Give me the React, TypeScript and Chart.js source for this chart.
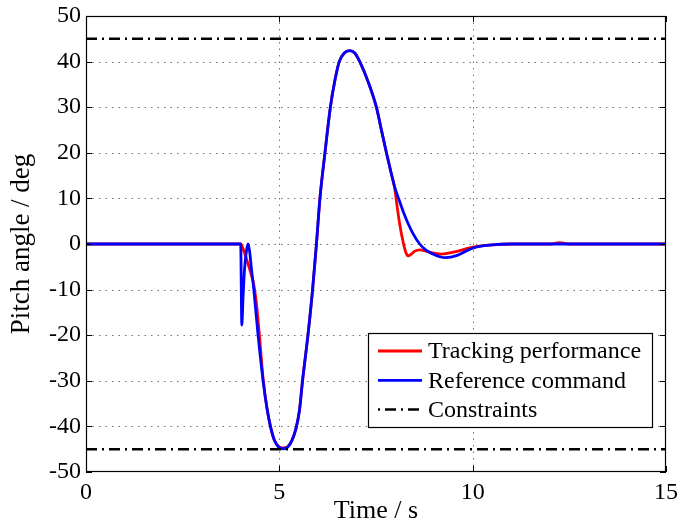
import React, { useEffect, useRef } from "react";
import { Chart, registerables } from "chart.js";

Chart.register(...registerables);

// ---- data ----
const trackTime = [0, 4.0, 4.08, 4.16, 4.25, 4.33, 4.4, 4.47, 4.58, 4.68, 4.77, 4.87, 4.98, 5.1, 5.22, 5.33, 5.43, 5.52, 5.6, 5.74, 5.86, 5.96, 6.05, 6.18, 6.32, 6.44, 6.55, 6.68, 6.82, 6.95, 7.08, 7.3, 7.51, 7.64, 7.77, 7.88, 7.98, 8.05, 8.12, 8.2, 8.27, 8.33, 8.4, 8.5, 8.63, 8.8, 9.0, 9.2, 9.5, 10.0, 10.5, 11.0, 12.0, 12.25, 12.5, 15];
const trackPitch = [0, 0, -1.5, -3.5, -6, -8.5, -12.5, -18.5, -29.5, -36, -40, -43, -44.4, -44.7, -44.4, -43, -40.5, -36.5, -30, -20, -10, 0, 10, 20, 30, 36, 40, 41.9, 42.4, 41.9, 40, 35.5, 30, 25, 20, 16, 12.4, 8, 4, 0.5, -1.8, -2.6, -2.3, -1.6, -1.3, -1.6, -2.0, -2.2, -1.8, -0.7, -0.2, 0, 0, 0.3, 0, 0];

const refTime = [0, 4.0, 4.03, 4.06, 4.1, 4.15, 4.19, 4.23, 4.28, 4.34, 4.45, 4.58, 4.68, 4.77, 4.87, 4.98, 5.1, 5.22, 5.33, 5.43, 5.52, 5.6, 5.74, 5.86, 5.96, 6.05, 6.18, 6.32, 6.44, 6.55, 6.68, 6.82, 6.95, 7.08, 7.3, 7.51, 7.64, 7.77, 7.88, 7.98, 8.1, 8.2, 8.33, 8.45, 8.63, 8.8, 9.0, 9.15, 9.3, 9.6, 10.0, 10.5, 11.0, 15];
const refPitch = [0, 0, -17.8, -12, -5.5, -1.5, 0, -1.5, -5.5, -10, -20, -30, -36, -40, -43, -44.5, -44.9, -44.5, -43, -40.5, -36.5, -30, -20, -10, 0, 10, 20, 30, 36, 40, 41.9, 42.4, 41.9, 40, 35.5, 30, 25, 20, 16, 12.6, 9.6, 7.2, 4.5, 2.4, 0, -1.4, -2.3, -2.8, -3.0, -2.5, -0.9, -0.2, 0, 0];

const constraintTime = [0, 15];
const upperConstraint = [45, 45];
const lowerConstraint = [-45, -45];

const xTicks = [0, 5, 10, 15];
const yTicks = [-50, -40, -30, -20, -10, 0, 10, 20, 30, 40, 50];

const seriesLabels = ["Tracking performance", "Reference command", "Constraints"];
const seriesColors = ["#ff0000", "#0000ff", "#000000"];

const FONT = '"Liberation Serif", "Times New Roman", Times, serif';
const CONSTRAINT_DASH = [11, 5, 2, 5];

const toPoints = (xs: number[], ys: number[]) => xs.map((x, i) => ({ x, y: ys[i] }));

const framePlugin = {
  id: "matlabFrame",
  beforeDatasetsDraw(chart: any) {
    const { ctx, chartArea: a, scales } = chart;
    const x = scales.x;
    const y = scales.y;
    ctx.save();
    ctx.strokeStyle = "rgba(0,0,0,0.55)";
    ctx.lineWidth = 1;
    ctx.setLineDash([1.5, 5]);
    for (const v of xTicks) {
      const px = Math.round(x.getPixelForValue(v)) + 0.5;
      if (px <= a.left + 2 || px >= a.right - 2) continue;
      ctx.beginPath();
      ctx.moveTo(px, a.top);
      ctx.lineTo(px, a.bottom);
      ctx.stroke();
    }
    for (const v of yTicks) {
      const py = Math.round(y.getPixelForValue(v)) + 0.5;
      if (py <= a.top + 2 || py >= a.bottom - 2) continue;
      ctx.beginPath();
      ctx.moveTo(a.left, py);
      ctx.lineTo(a.right, py);
      ctx.stroke();
    }
    ctx.restore();
  },
  afterDatasetsDraw(chart: any) {
    const { ctx, chartArea: a, scales } = chart;
    const x = scales.x;
    const y = scales.y;
    ctx.save();
    ctx.setLineDash([]);
    ctx.strokeStyle = "#000";
    ctx.lineWidth = 1.2;
    ctx.strokeRect(a.left + 0.5, a.top + 0.5, a.right - a.left - 1, a.bottom - a.top - 1);
    // inward ticks
    const tl = 6;
    ctx.lineWidth = 1;
    for (const v of xTicks) {
      const px = Math.round(x.getPixelForValue(v)) + 0.5;
      ctx.beginPath();
      ctx.moveTo(px, a.bottom);
      ctx.lineTo(px, a.bottom - tl);
      ctx.moveTo(px, a.top);
      ctx.lineTo(px, a.top + tl);
      ctx.stroke();
    }
    for (const v of yTicks) {
      const py = Math.round(y.getPixelForValue(v)) + 0.5;
      ctx.beginPath();
      ctx.moveTo(a.left, py);
      ctx.lineTo(a.left + tl, py);
      ctx.moveTo(a.right, py);
      ctx.lineTo(a.right - tl, py);
      ctx.stroke();
    }
    // legend (MATLAB style, inside lower right)
    const boxL = a.left + 282;
    const boxT = a.top + 317;
    const boxR = a.right - 14;
    const boxB = a.bottom - 45;
    ctx.fillStyle = "#fff";
    ctx.fillRect(boxL, boxT, boxR - boxL, boxB - boxT);
    ctx.lineWidth = 1.2;
    ctx.strokeStyle = "#000";
    ctx.strokeRect(boxL + 0.5, boxT + 0.5, boxR - boxL, boxB - boxT);
    const rowH = 29.3;
    const row0 = boxT + 18;
    const lineX0 = boxL + 10;
    const lineX1 = boxL + 54;
    const textX = boxL + 60;
    ctx.font = `24px ${FONT}`;
    ctx.textBaseline = "middle";
    ctx.textAlign = "left";
    seriesLabels.forEach((label, i) => {
      const ry = row0 + i * rowH;
      ctx.save();
      ctx.strokeStyle = seriesColors[i];
      ctx.lineWidth = i === 2 ? 2.5 : 2.8;
      ctx.setLineDash(i === 2 ? [2, 5, 11, 5] : []);
      ctx.beginPath();
      ctx.moveTo(lineX0, ry);
      ctx.lineTo(lineX1, ry);
      ctx.stroke();
      ctx.restore();
      ctx.fillStyle = "#000";
      ctx.fillText(label, textX, ry + 1);
    });
    ctx.restore();
  },
};

export default function App() {
  const canvasRef = useRef<HTMLCanvasElement>(null);

  useEffect(() => {
    const canvas = canvasRef.current;
    if (!canvas) return;
    const chart = new Chart(canvas, {
      type: "line",
      data: {
        datasets: [
          {
            label: seriesLabels[0],
            data: toPoints(trackTime, trackPitch),
            borderColor: seriesColors[0],
            borderWidth: 2.8,
            pointRadius: 0,
            cubicInterpolationMode: "monotone",
            order: 2,
          },
          {
            label: seriesLabels[1],
            data: toPoints(refTime, refPitch),
            borderColor: seriesColors[1],
            borderWidth: 2.8,
            pointRadius: 0,
            cubicInterpolationMode: "monotone",
            order: 1,
          },
          {
            label: seriesLabels[2],
            data: toPoints(constraintTime, upperConstraint),
            borderColor: seriesColors[2],
            borderWidth: 2.5,
            borderDash: CONSTRAINT_DASH,
            pointRadius: 0,
            order: 0,
          },
          {
            label: seriesLabels[2] + " (lower)",
            data: toPoints(constraintTime, lowerConstraint),
            borderColor: seriesColors[2],
            borderWidth: 2.5,
            borderDash: CONSTRAINT_DASH,
            pointRadius: 0,
            order: 0,
          },
        ],
      },
      options: {
        animation: false,
        responsive: false,
        events: [],
        layout: { padding: { top: 16, right: 12, bottom: 0, left: 0 } },
        plugins: {
          legend: { display: false },
          tooltip: { enabled: false },
        },
        scales: {
          x: {
            type: "linear",
            min: 0,
            max: 15,
            grid: { display: false, drawTicks: false },
            border: { display: false },
            afterBuildTicks: (s: any) => {
              s.ticks = xTicks.map((v) => ({ value: v }));
            },
            afterFit: (s: any) => {
              s.height = 55;
              s.paddingLeft = 0;
              s.paddingRight = 0;
            },
            ticks: {
              color: "#000",
              font: { family: FONT, size: 24 },
              padding: 6,
              maxRotation: 0,
              autoSkip: false,
            },
            title: {
              display: true,
              text: "Time / s",
              color: "#000",
              font: { family: FONT, size: 26 },
              padding: { top: 0, bottom: 0 },
            },
          },
          y: {
            type: "linear",
            min: -50,
            max: 50,
            grid: { display: false, drawTicks: false },
            border: { display: false },
            afterBuildTicks: (s: any) => {
              s.ticks = yTicks.map((v) => ({ value: v }));
            },
            afterFit: (s: any) => {
              s.width = 86;
              s.paddingTop = 0;
              s.paddingBottom = 0;
            },
            ticks: {
              color: "#000",
              font: { family: FONT, size: 24 },
              padding: 5,
              autoSkip: false,
            },
            title: {
              display: true,
              text: "Pitch angle / deg",
              color: "#000",
              font: { family: FONT, size: 27 },
              padding: { top: 6, bottom: 0 },
            },
          },
        },
      },
      plugins: [framePlugin],
    } as any);
    return () => chart.destroy();
  }, []);

  return (
    <div style={{ position: "fixed", left: 0, top: 0, width: 678, height: 527, background: "#fff" }}>
      <canvas ref={canvasRef} width={678} height={527} style={{ display: "block" }} />
    </div>
  );
}
